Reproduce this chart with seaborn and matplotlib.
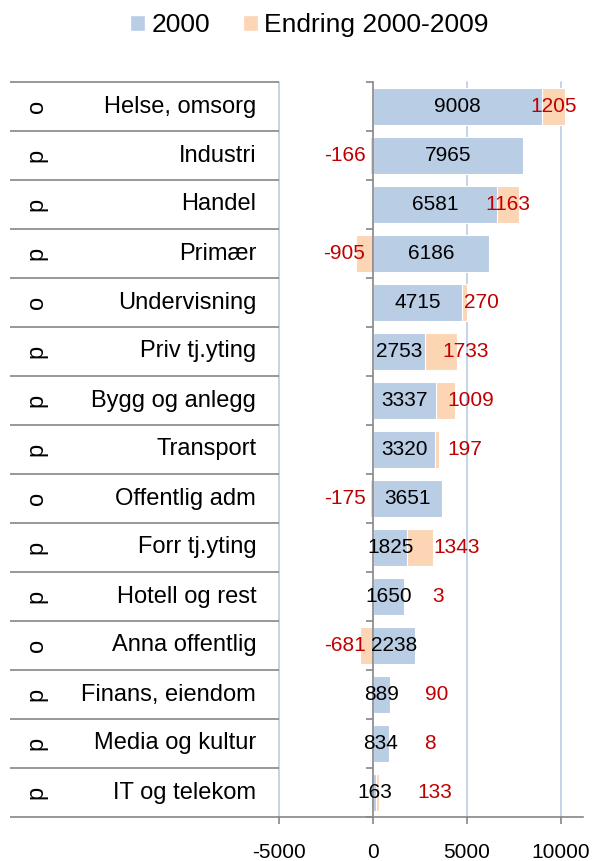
import numpy as np
import pandas as pd
import matplotlib
matplotlib.use('Agg')
import matplotlib.pyplot as plt
from matplotlib.patches import Patch
import seaborn as sns

# Data
sektor = ['o', 'p', 'p', 'p', 'o', 'p', 'p', 'p', 'o', 'p', 'p', 'o', 'p', 'p', 'p']
naering = ['Helse, omsorg', 'Industri', 'Handel', 'Primær', 'Undervisning',
           'Priv tj.yting', 'Bygg og anlegg', 'Transport', 'Offentlig adm',
           'Forr tj.yting', 'Hotell og rest', 'Anna offentlig', 'Finans, eiendom',
           'Media og kultur', 'IT og telekom']
aar_2000 = [9008, 7965, 6581, 6186, 4715, 2753, 3337, 3320, 3651, 1825, 1650, 2238, 889, 834, 163]
endring = [1205, -166, 1163, -905, 270, 1733, 1009, 197, -175, 1343, 3, -681, 90, 8, 133]
x_ticks = [-5000, 0, 5000, 10000]

BLUE = '#b9cde5'
ORANGE = '#fcd5b5'
GRID = '#b9cde5'
GRAY = '#868686'
RED = '#c00000'

sns.set_theme(style='white')
plt.rcParams['font.family'] = ['Liberation Sans', 'DejaVu Sans']
plt.rcParams['axes.unicode_minus'] = False
plt.rcParams['text.color'] = 'black'

df = pd.DataFrame({'naering': naering, 'sektor': sektor,
                   'y2000': aar_2000, 'endring': endring})
# positive change stacks on top of 2000, negative change hangs left of zero
df['orange'] = np.where(df['endring'] > 0, df['y2000'] + df['endring'], df['endring'])
n = len(df)

fig = plt.figure(figsize=(5.94, 8.61), dpi=100)
ax = fig.add_axes([279 / 594, 44 / 861, 304 / 594, 735 / 861])
ax_t = fig.add_axes([10 / 594, 44 / 861, 269 / 594, 735 / 861])

# ---- bars ----
sns.barplot(data=df, y='naering', x='orange', color=ORANGE, saturation=1,
            width=0.76, edgecolor='white', linewidth=0.8, errorbar=None, ax=ax)
sns.barplot(data=df, y='naering', x='y2000', color=BLUE, saturation=1,
            width=0.76, edgecolor='white', linewidth=0.8, errorbar=None, ax=ax)

ax.set_xlim(-5000, 11170)
ax.set_ylim(n - 0.5, -0.5)
ax.set_xlabel('')
ax.set_ylabel('')

for v in x_ticks:
    if v != 0:
        ax.axvline(v, color=GRID, lw=1.2, zorder=0.5, clip_on=False)

ax.spines['left'].set_position(('data', 0))
ax.spines['left'].set_color(GRAY)
ax.spines['left'].set_linewidth(1.2)
ax.spines['bottom'].set_color(GRAY)
ax.spines['bottom'].set_linewidth(1.2)
ax.spines['top'].set_visible(False)
ax.spines['right'].set_visible(False)

ax.set_yticks(np.arange(-0.5, n, 1))
ax.set_yticklabels([])
ax.tick_params(axis='y', left=True, length=5, width=1.2, color=GRAY)
ax.set_xticks(x_ticks)
ax.set_xticklabels([str(v) for v in x_ticks])
ax.tick_params(axis='x', bottom=True, length=5, width=1.2, color=GRAY,
               pad=14, labelsize=15, labelcolor='black')

# ---- value labels ----
for i, row in df.iterrows():
    b = row['y2000']
    e = row['endring']
    ax.text(b / 2, i, f'{b}', ha='center', va='center',
            fontsize=15, color='black', zorder=5)
    if e < 0:
        ax.text(-400, i, f'{e}', ha='right', va='center', fontsize=15, color=RED, zorder=5)
    elif b >= 5000:
        ax.text(b + e / 2, i, f'{e}', ha='center', va='center',
                fontsize=15, color=RED, zorder=5)
    else:
        # keep clear of the black label inside the blue bar
        ax.text(max(b + 150, b / 2 + 2300), i, f'{e}', ha='left', va='center',
                fontsize=15, color=RED, zorder=5)

# ---- category table on the left ----
ax_t.set_xlim(0, 1)
ax_t.set_ylim(n - 0.5, -0.5)
ax_t.axis('off')
ax_t.hlines(np.arange(-0.5, n, 1), 0, 1, color=GRAY, lw=1.2, clip_on=False)
for i, row in df.iterrows():
    ax_t.text(0.1, i, row['sektor'], rotation=90, ha='center', va='center',
              fontsize=17, color='black')
    ax_t.text(0.915, i, row['naering'], ha='right', va='center',
              fontsize=17, color='black')

fig.legend(handles=[Patch(facecolor=BLUE, label='2000'),
                    Patch(facecolor=ORANGE, label='Endring 2000-2009')],
           loc='center', bbox_to_anchor=(0.521, 0.971), ncol=2, frameon=False,
           fontsize=19, handlelength=0.55, handleheight=0.55, handletextpad=0.25,
           columnspacing=1.25, borderpad=0, labelcolor='black')

fig.savefig('out.png', dpi=100)
plt.close(fig)
